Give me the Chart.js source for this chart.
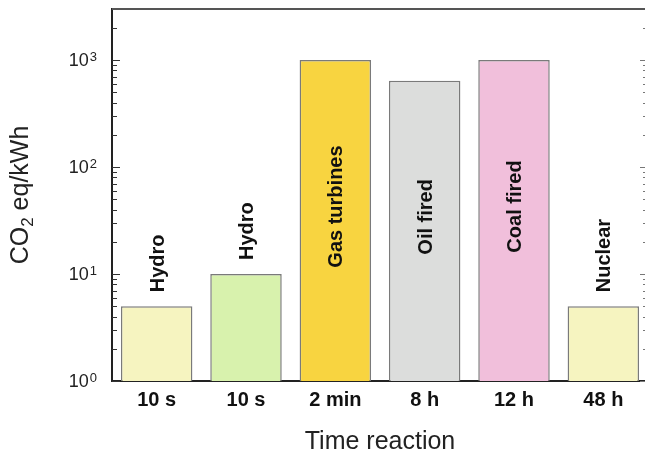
<!DOCTYPE html>
<html>
<head>
<meta charset="utf-8">
<script src="https://cdn.jsdelivr.net/npm/chart.js@4"></script>
<style>
  html, body { margin: 0; padding: 0; background: #fff; overflow: hidden; }
  #wrap { width: 650px; height: 454px; }
</style>
</head>
<body>
<div id="wrap"><canvas id="chart" width="650" height="454"></canvas></div>
<script>
// response times (x categories), technologies and emissions
const reactionTimes = ['10 s', '10 s', '2 min', '8 h', '12 h', '48 h'];
const technologies = ['Hydro', 'Hydro', 'Gas turbines', 'Oil fired', 'Coal fired', 'Nuclear'];
const co2PerKWh = [5, 10, 1000, 640, 1000, 5];

// log axis
const yMin = 1;
const yMax = 3000;
const yDecades = [1, 10, 100, 1000];
const yExponents = ['0', '1', '2', '3'];

const FONT = '"Liberation Sans", Arial, sans-serif';

const decorations = {
    id: 'decorations',
    afterDatasetsDraw(chart) {
        const ctx = chart.ctx;
        const a = chart.chartArea;
        const y = chart.scales.y;
        ctx.save();

        // bar labels, rotated
        const meta = chart.getDatasetMeta(0);
        ctx.fillStyle = '#111';
        ctx.font = 'bold 20px ' + FONT;
        ctx.textBaseline = 'alphabetic';
        meta.data.forEach((bar, i) => {
            const text = technologies[i];
            const w = ctx.measureText(text).width;
            let bottom;
            if (co2PerKWh[i] >= 100) {
                bottom = (bar.y + bar.base) / 2 - 14 + w / 2;
            } else {
                bottom = bar.y - 14;
            }
            ctx.save();
            ctx.translate(bar.x + 7, bottom);
            ctx.rotate(-Math.PI / 2);
            ctx.textAlign = 'left';
            ctx.fillText(text, 0, 0);
            ctx.restore();
        });

        // inward ticks, left and right
        ctx.lineWidth = 1;
        yDecades.forEach(d => {
            for (let m = 1; m <= 9; m++) {
                const v = d * m;
                if (v > yMax) break;
                const py = Math.round(y.getPixelForValue(v)) + 0.5;
                const len = m === 1 ? 8 : 5;
                ctx.strokeStyle = '#333';
                ctx.beginPath();
                ctx.moveTo(a.left, py);
                ctx.lineTo(a.left + len, py);
                ctx.stroke();
                ctx.strokeStyle = '#777';
                ctx.beginPath();
                ctx.moveTo(a.right - len, py);
                ctx.lineTo(a.right, py);
                ctx.stroke();
            }
        });

        // top and right frame
        ctx.strokeStyle = '#555';
        ctx.lineWidth = 2;
        ctx.beginPath();
        ctx.moveTo(a.left, a.top);
        ctx.lineTo(a.right, a.top);
        ctx.lineTo(a.right, a.bottom);
        ctx.stroke();

        // y tick labels 10^n
        ctx.fillStyle = '#222';
        ctx.textAlign = 'right';
        ctx.textBaseline = 'alphabetic';
        yDecades.forEach((v, i) => {
            const py = y.getPixelForValue(v);
            const right = a.left - 15;
            ctx.font = '13px ' + FONT;
            const sw = ctx.measureText(yExponents[i]).width;
            ctx.fillText(yExponents[i], right, py + 1);
            ctx.font = '18px ' + FONT;
            ctx.fillText('10', right - sw - 1, py + 6);
        });

        // y title with subscript
        const parts = [
            { t: 'CO', f: '25px ' + FONT, dy: 0 },
            { t: '2', f: '17px ' + FONT, dy: 5 },
            { t: ' eq/kWh', f: '25px ' + FONT, dy: 0 }
        ];
        let total = 0;
        parts.forEach(p => { ctx.font = p.f; p.w = ctx.measureText(p.t).width; total += p.w; });
        ctx.save();
        ctx.translate(28, (a.top + a.bottom) / 2);
        ctx.rotate(-Math.PI / 2);
        ctx.textAlign = 'left';
        ctx.fillStyle = '#222';
        let x = -total / 2;
        parts.forEach(p => {
            ctx.font = p.f;
            ctx.fillText(p.t, x, p.dy);
            x += p.w;
        });
        ctx.restore();

        ctx.restore();
    }
};

new Chart(document.getElementById('chart'), {
    type: 'bar',
    data: {
        labels: reactionTimes,
        datasets: [{
            data: co2PerKWh,
            backgroundColor: ['#f6f4c0', '#d8f2ad', '#f8d440', '#dcdddc', '#f1bfdb', '#f6f4c0'],
            borderColor: '#7a7a7a',
            borderWidth: 1.5,
            borderSkipped: 'bottom',
            barPercentage: 0.8,
            categoryPercentage: 1
        }]
    },
    options: {
        responsive: false,
        animation: false,
        layout: { padding: { left: 112, right: 2, top: 9, bottom: 0 } },
        plugins: {
            legend: { display: false },
            tooltip: { enabled: false }
        },
        scales: {
            x: {
                grid: { display: false, drawTicks: false },
                border: { display: true, color: '#222', width: 2 },
                ticks: {
                    color: '#111',
                    font: { family: FONT, size: 20, weight: 'bold' },
                    padding: 7,
                    maxRotation: 0
                },
                title: {
                    display: true,
                    text: 'Time reaction',
                    color: '#222',
                    font: { family: FONT, size: 25 },
                    padding: { top: 8, bottom: -3 }
                }
            },
            y: {
                type: 'logarithmic',
                min: yMin,
                max: yMax,
                grid: { display: false, drawTicks: false },
                border: { display: true, color: '#222', width: 2 },
                ticks: { display: false }
            }
        }
    },
    plugins: [decorations]
});
</script>
</body>
</html>
